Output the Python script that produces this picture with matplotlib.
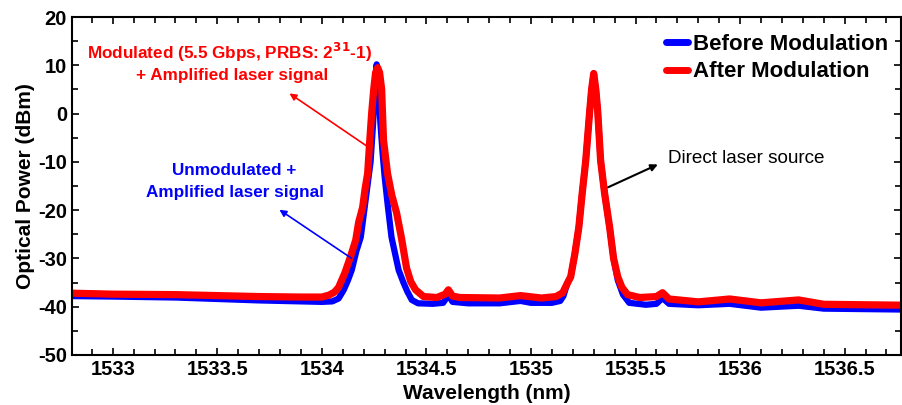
import numpy as np
import matplotlib
matplotlib.use('Agg')
import matplotlib.pyplot as plt
from matplotlib.ticker import MultipleLocator

plt.rcParams['font.family'] = ['Liberation Sans', 'DejaVu Sans']
plt.rcParams['axes.unicode_minus'] = False

# spectrum before modulation (blue)
wl_before = [1532.80, 1533.0, 1533.3, 1533.5, 1533.7, 1533.9, 1534.0, 1534.05, 1534.08,
             1534.105, 1534.125, 1534.143, 1534.165, 1534.186, 1534.2, 1534.215, 1534.233,
             1534.245, 1534.255, 1534.262, 1534.27, 1534.28, 1534.29, 1534.3, 1534.315,
             1534.333, 1534.367, 1534.39, 1534.408, 1534.43, 1534.46, 1534.53, 1534.58,
             1534.605, 1534.625, 1534.7, 1534.85, 1534.95, 1535.0, 1535.1, 1535.14,
             1535.155, 1535.175, 1535.19, 1535.21, 1535.229, 1535.245, 1535.262, 1535.281,
             1535.29, 1535.30, 1535.31, 1535.319, 1535.333, 1535.352, 1535.376, 1535.395,
             1535.415, 1535.44, 1535.47, 1535.55, 1535.60, 1535.629, 1535.66, 1535.8,
             1535.95, 1536.1, 1536.28, 1536.4, 1536.8]
p_before = [-37.8, -37.9, -38.1, -38.4, -38.7, -38.9, -39.0, -38.9, -38.3,
            -36.5, -34.5, -32.4, -28.5, -25.6, -21.0, -16.0, -10.0,
            -2.0, 6.0, 10.2, 6.0, -2.0, -8.0, -13.0, -19.0,
            -25.6, -32.4, -35.0, -36.8, -38.6, -39.3, -39.4, -39.2,
            -37.6, -39.0, -39.3, -39.3, -38.8, -39.2, -39.2, -38.8,
            -37.8, -35.0, -33.8, -29.0, -23.5, -16.5, -9.7, 0.6,
            5.0, 8.3, 5.0, 0.6, -9.7, -16.5, -23.5, -30.0,
            -34.5, -37.5, -39.2, -39.6, -39.4, -38.2, -39.4, -39.7,
            -39.4, -40.2, -39.8, -40.4, -40.6]

# spectrum after modulation (red)
wl_after = [1532.80, 1533.0, 1533.3, 1533.5, 1533.7, 1533.9, 1534.0, 1534.034, 1534.06,
            1534.08, 1534.11, 1534.138, 1534.162, 1534.176, 1534.195, 1534.207, 1534.219,
            1534.229, 1534.238, 1534.248, 1534.257, 1534.267, 1534.276, 1534.286, 1534.29,
            1534.295, 1534.314, 1534.335, 1534.357, 1534.38, 1534.405, 1534.425, 1534.448,
            1534.486, 1534.55, 1534.59, 1534.605, 1534.625, 1534.66, 1534.85, 1534.95,
            1535.05, 1535.12, 1535.152, 1535.17, 1535.19, 1535.21, 1535.229, 1535.245,
            1535.262, 1535.281, 1535.29, 1535.30, 1535.31, 1535.319, 1535.333, 1535.352,
            1535.376, 1535.395, 1535.415, 1535.435, 1535.462, 1535.52, 1535.60, 1535.629,
            1535.66, 1535.8, 1535.95, 1536.1, 1536.28, 1536.4, 1536.8]
p_after = [-37.2, -37.4, -37.5, -37.7, -37.9, -38.0, -38.0, -37.6, -37.0,
           -36.0, -33.0, -29.5, -26.2, -22.5, -19.4, -15.5, -12.4,
           -5.6, 0.0, 5.0, 8.5, 9.5, 8.5, 5.0, 0.0,
           -5.6, -12.4, -17.0, -20.5, -25.6, -32.0, -34.8, -36.5,
           -37.9, -38.1, -37.4, -36.5, -37.8, -38.1, -38.2, -37.7,
           -38.2, -37.9, -37.1, -35.5, -33.8, -29.0, -23.5, -16.5,
           -9.7, 0.6, 5.0, 8.3, 5.0, 0.6, -9.7, -16.5,
           -23.5, -30.0, -33.8, -36.0, -37.5, -38.1, -37.9, -37.1,
           -38.4, -39.0, -38.4, -39.2, -38.6, -39.5, -39.7]

fig = plt.figure(figsize=(9.02, 4.05), dpi=100)
ax = fig.add_axes([0.0798, 0.1235, 0.9192, 0.8345])

ax.plot(wl_before, p_before, color='#0000ff', lw=4.5, solid_joinstyle='round',
        solid_capstyle='round', label='Before Modulation')
ax.plot(wl_after, p_after, color='#ff0000', lw=5.2, solid_joinstyle='round',
        solid_capstyle='round', label='After Modulation')

ax.set_xlim(1532.805, 1536.77)
ax.set_ylim(-50, 20)
ax.xaxis.set_major_locator(MultipleLocator(0.5))
ax.xaxis.set_minor_locator(MultipleLocator(0.1))
ax.yaxis.set_major_locator(MultipleLocator(10))
ax.yaxis.set_minor_locator(MultipleLocator(5))
ax.xaxis.set_major_formatter(plt.FuncFormatter(lambda v, p: ('%g' % v)))
ax.tick_params(which='both', direction='in', top=True, right=True, width=1.2)
ax.tick_params(which='major', length=5, labelsize=14.5)
ax.tick_params(which='minor', length=4)
for lab in ax.get_xticklabels() + ax.get_yticklabels():
    lab.set_fontweight('bold')
for s in ax.spines.values():
    s.set_linewidth(1.5)

ax.set_xlabel('Wavelength (nm)', fontsize=15, fontweight='bold', labelpad=4)
ax.set_ylabel('Optical Power (dBm)', fontsize=15, fontweight='bold', labelpad=2)

# annotations
ax.text(1533.557, 12.6, 'Modulated (5.5 Gbps, PRBS: 2$^{\\mathbf{31}}$-1)', color='#ff0000',
        fontsize=12.3, fontweight='bold', ha='center', va='center')
ax.text(1533.57, 7.9, '+ Amplified laser signal', color='#ff0000',
        fontsize=12.3, fontweight='bold', ha='center', va='center')
ax.annotate('', xy=(1533.834, 4.5), xytext=(1534.224, -7.0),
            arrowprops=dict(arrowstyle='-|>', color='#ff0000', lw=1.2, mutation_scale=10))

ax.text(1533.581, -11.75, 'Unmodulated +', color='#0000ff',
        fontsize=12.3, fontweight='bold', ha='center', va='center')
ax.text(1533.585, -16.3, 'Amplified laser signal', color='#0000ff',
        fontsize=12.3, fontweight='bold', ha='center', va='center')
ax.annotate('', xy=(1533.786, -19.6), xytext=(1534.153, -30.3),
            arrowprops=dict(arrowstyle='-|>', color='#0000ff', lw=1.2, mutation_scale=10))

ax.text(1535.653, -9.3, 'Direct laser source', color='black',
        fontsize=13.6, ha='left', va='center')
ax.annotate('', xy=(1535.619, -10.3), xytext=(1535.357, -15.5),
            arrowprops=dict(arrowstyle='-|>', color='black', lw=1.5, mutation_scale=10))

leg = ax.legend(loc='upper right', bbox_to_anchor=(1.008, 1.01), frameon=False,
                handlelength=1.0, handletextpad=0.2, labelspacing=0.3,
                prop={'size': 16, 'weight': 'bold'})
for h in leg.get_lines():
    h.set_linewidth(5)

fig.savefig('out.png', dpi=100)
